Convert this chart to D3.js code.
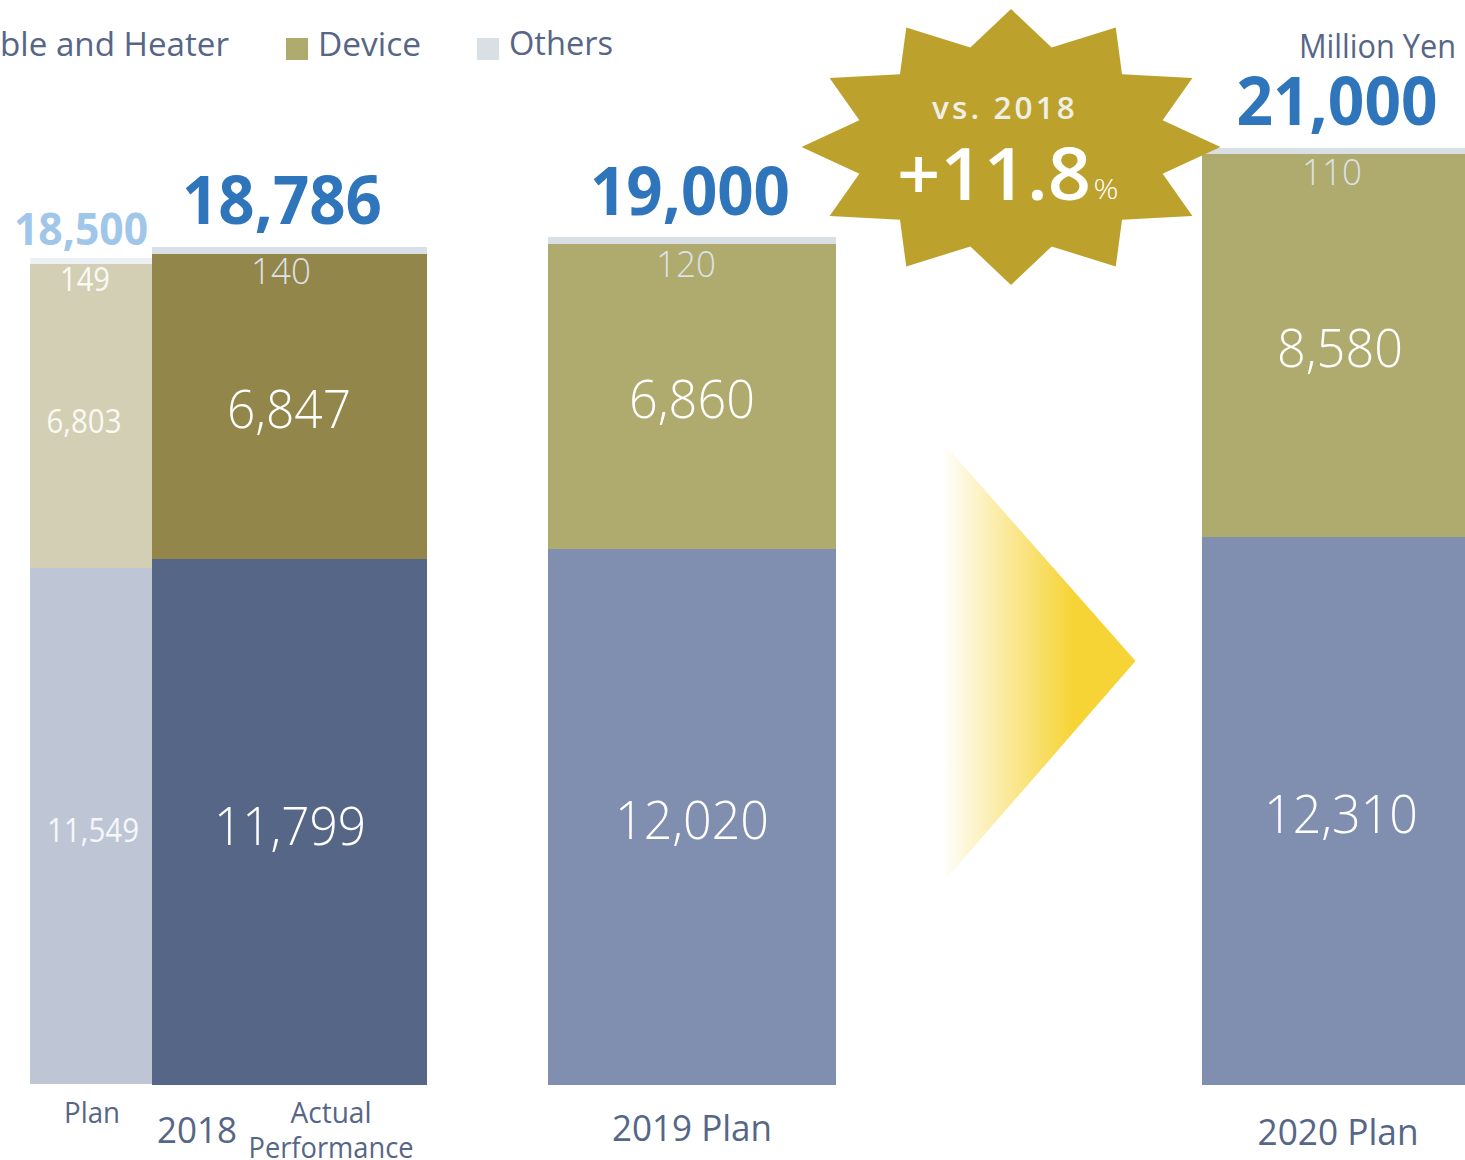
<!DOCTYPE html>
<html><head><meta charset="utf-8">
<script src="https://cdn.jsdelivr.net/npm/d3@7/dist/d3.min.js"></script>
<style>html,body{margin:0;padding:0;background:#fff;overflow:hidden}svg{display:block}text{font-family:"Open Sans",sans-serif}</style>
</head><body><svg id="c" width="1465" height="1160"></svg>
<script>
// ---- data ----
const periods = ["2018 Plan","2018 Actual","2019 Plan","2020 Plan"];
const cableHeater = [11549,11799,12020,12310];
const device = [6803,6847,6860,8580];
const others = [149,140,120,110];
const totals = [18500,18786,19000,21000];
const legendLabels = ["ble and Heater","Device","Others"];
const palette = [
  {cable:"#BEC6D6",device:"#D3CFB5",others:"#EDF0F4",total:"#A0C6E9"},
  {cable:"#566686",device:"#92864A",others:"#D8DFE5",total:"#2E75BC"},
  {cable:"#808FAF",device:"#AFAA6D",others:"#D8DFE5",total:"#2E75BC"},
  {cable:"#808FAF",device:"#AFAA6D",others:"#D8DFE5",total:"#2E75BC"}];
// ---- layout ----
const svg = d3.select("#c");
const yMain = d3.scaleLinear().domain([0,21000]).range([1085,148.5]);
const yPlan = d3.scaleLinear().domain([0,21000]).range([1084,145.3]);
const fmt = d3.format(",");
const geom = [
 {x0:30,x1:152,y:yPlan,cx:[93,84,85,81],fs:[32,32,32,45],w:[92,75,50,134],od:27,tot:13,midA:16,midD:17,inner:v=>Math.round(v),outer:v=>Math.round(v)+1},
 {x0:152,x1:427,y:yMain,cx:[290,289,281,282],fs:[54,54,36,66],w:[152,124,60,200],od:30,tot:23,midA:23,midD:21,inner:Math.ceil,outer:Math.floor},
 {x0:548,x1:836,y:yMain,cx:[692,692,686,690],fs:[54,54,36,66],w:[154,126,60,200],od:33,tot:22,midA:22,midD:21,inner:Math.ceil,outer:Math.floor},
 {x0:1202,x1:1465,y:yMain,cx:[1341,1340,1332,1337],fs:[54,54,36,66],w:[154,126,60,201],od:31,tot:23,midA:22,midD:21,inner:Math.ceil,outer:Math.floor}];
const ink = "#566686";
function txt(x,yy,s,size,fill,opt={}){
  const t = svg.append("text").attr("x",x).attr("y",yy).attr("font-size",size).attr("fill",fill)
    .attr("text-anchor",opt.anchor||"middle").attr("font-weight",opt.weight||300).text(s);
  if(opt.spacing) t.attr("letter-spacing",opt.spacing);
  if(opt.width) t.attr("textLength",opt.width).attr("lengthAdjust","spacingAndGlyphs");
  return t;
}
const defs = svg.append("defs");
const g = defs.append("linearGradient").attr("id","arrowGrad");
g.append("stop").attr("offset","0").attr("stop-color","#F6D436").attr("stop-opacity",0.03);
g.append("stop").attr("offset","0.67").attr("stop-color","#F6D436").attr("stop-opacity",1);
g.append("stop").attr("offset","1").attr("stop-color","#F6D436");
svg.append("path").attr("d","M945,445L1135.5,661L945,880Z").attr("fill","url(#arrowGrad)");

periods.forEach((p,i)=>{
  const G=geom[i], C=palette[i];
  const a=cableHeater[i], d=device[i], o=others[i], w=G.x1-G.x0;
  const base=G.y(0), yA=G.inner(G.y(a)), yD=G.inner(G.y(a+d)), top=G.outer(G.y(totals[i]));
  const rect=(y0,y1,f)=>svg.append("rect").attr("x",G.x0).attr("width",w).attr("y",y1).attr("height",y0-y1).attr("fill",f);
  rect(base,yA,C.cable);
  rect(yA,yD,C.device);
  rect(yD,top,C.others);
  const plan=i===0;
  txt(G.cx[0],(base+yA)/2+G.midA,fmt(a),G.fs[0],plan?"#F6F7FA":"#fff",{width:G.w[0],weight:plan?400:300});
  txt(G.cx[1],(yA+yD)/2+G.midD,fmt(d),G.fs[1],plan?"#FAF9F4":"#fff",{width:G.w[1],weight:plan?400:300});
  txt(G.cx[2],yD+G.od,fmt(o),G.fs[2],plan?"#FAF9F4":"#DDE2E6",{width:G.w[2],weight:plan?400:300});
  txt(G.cx[3],top-G.tot,fmt(totals[i]),G.fs[3],C.total,{weight:700,width:G.w[3]});
});
// legend
const legendX=[0,318,509], legendW=[229,103,104], legendY=[56,56,55], swatch=[null,"#AFAA6D","#D8DFE5"];
legendLabels.forEach((l,i)=>{
  txt(legendX[i],legendY[i],l,33,ink,{anchor:"start",width:legendW[i],weight:400});
  if(swatch[i]) svg.append("rect").attr("x",legendX[i]-32).attr("y",38).attr("width",22).attr("height",22).attr("fill",swatch[i]);
});
txt(1456,58,"Million Yen",32,ink,{anchor:"end",width:157,weight:400});
// category labels
txt(92,1123,"Plan",29,ink,{width:56,weight:400});
txt(197,1143,"2018",36,ink,{width:80,weight:400});
txt(331,1123,"Actual",29,ink,{width:81,weight:400});
txt(331,1158,"Performance",29,ink,{width:165,weight:400});
txt(692,1141,"2019 Plan",36,ink,{width:160,weight:400});
txt(1338,1145,"2020 Plan",36,ink,{width:161,weight:400});
// burst
const pts=d3.range(24).map(k=>{
  const th=k*Math.PI/12-Math.PI/2, outer=k%2===0;
  return [1011+(outer?209.5:157)*Math.cos(th),147+(outer?138:103)*Math.sin(th)];
});
svg.append("path").attr("d",d3.line().curve(d3.curveLinearClosed)(pts)).attr("fill","#BCA22C");
txt(1005,119,"vs. 2018",30,"#F0EFE6",{weight:600,width:146,spacing:3});
txt(994,200,"+11.8",73,"#fff",{weight:600,width:194});
txt(1106,199,"%",28,"#fff",{width:25});
</script></body></html>
